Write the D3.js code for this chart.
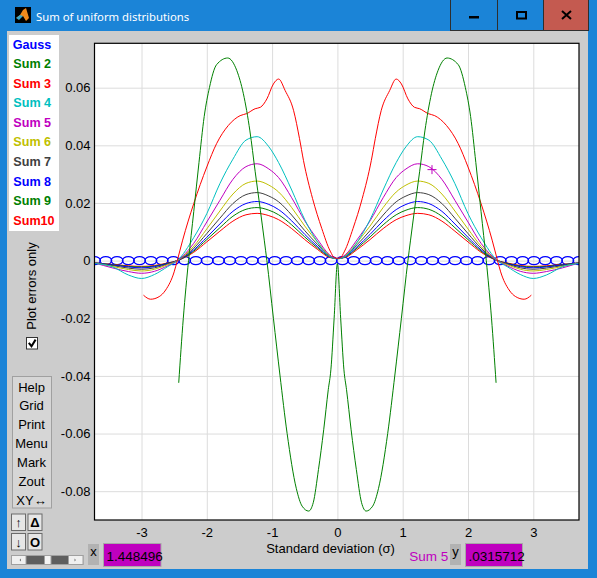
<!DOCTYPE html>
<html>
<head>
<meta charset="utf-8">
<script src="https://cdn.jsdelivr.net/npm/d3@7"></script>
<style>
  body { margin: 0; background: #1b84d7; }
  svg { display: block; }
  text { font-family: "Liberation Sans", Arial, sans-serif; }
</style>
</head>
<body>
<svg id="win" width="597" height="578"></svg>
<script>
// values
const xTicks = [-3, -2, -1, 0, 1, 2, 3];
const yTicks = [-0.08, -0.06, -0.04, -0.02, 0, 0.02, 0.04, 0.06];
const legendNames = ["Gauss", "Sum 2", "Sum 3", "Sum 4", "Sum 5", "Sum 6", "Sum 7", "Sum 8", "Sum 9", "Sum10"];
const legendColors = ["#0000ff", "#008000", "#ff0000", "#00bfbf", "#bf00bf", "#bfbf00", "#404040", "#0000ff", "#008000", "#ff0000"];
const buttonLabels = ["Help", "Grid", "Print", "Menu", "Mark", "Zout", "XY\u2194"];

// Gauss error is zero everywhere, only circle markers
const gaussX = [-3.720, -3.547, -3.375, -3.202, -3.030, -2.857, -2.685, -2.512, -2.340, -2.167,
  -1.994, -1.822, -1.649, -1.477, -1.304, -1.132, -0.959, -0.787, -0.614, -0.441, -0.269, -0.096,
  0.077, 0.249, 0.422, 0.594, 0.767, 0.939, 1.112, 1.285, 1.457, 1.630, 1.802, 1.975, 2.147,
  2.320, 2.492, 2.665, 2.837, 3.010, 3.183, 3.355, 3.528, 3.700];

const sum2X = [-2.43, -2.36, -2.28, -2.20, -2.12, -2.04, -1.96, -1.85, -1.68, -1.54, -1.44, -1.34, -1.26,
  -1.18, -1.12, -1.08, -0.98, -0.88, -0.77, -0.63, -0.54, -0.44, -0.37, -0.29, -0.21, -0.14,
  -0.10, -0.05, 0, 0.05, 0.10, 0.14, 0.21, 0.29, 0.37, 0.44, 0.54, 0.63, 0.77, 0.88, 0.98,
  1.08, 1.12, 1.18, 1.26, 1.34, 1.44, 1.54, 1.68, 1.85, 1.96, 2.04, 2.12, 2.20, 2.28, 2.36, 2.43];
const sum2Y = [-0.0424, -0.0200, 0.0000, 0.0170, 0.0340, 0.0500, 0.0600, 0.0680, 0.0703, 0.0659, 0.0579,
  0.0450, 0.0310, 0.0175, 0.0071, 0.0000, -0.0200, -0.0397, -0.0600, -0.0790, -0.0852,
  -0.0869, -0.0840, -0.0725, -0.0587, -0.0448, -0.0379, -0.0200, -0.0010, -0.0200, -0.0379, -0.0448,
  -0.0587, -0.0725, -0.0840, -0.0869, -0.0852, -0.0790, -0.0600, -0.0397, -0.0200, 0.0000,
  0.0071, 0.0175, 0.0310, 0.0450, 0.0579, 0.0659, 0.0703, 0.0680, 0.0600, 0.0500, 0.0340, 0.0170,
  0.0000, -0.0200, -0.0424];

const sum3X = [-2.97, -2.86, -2.73, -2.63, -2.5, -2.45, -2.37, -2.2, -2.0, -1.85, -1.67, -1.49, -1.39,
  -1.26, -1.18, -1.08, -0.98, -0.90, -0.80, -0.67, -0.58, -0.52, -0.38, -0.24, -0.11, -0.04, 0,
  0.04, 0.11, 0.24, 0.38, 0.52, 0.58, 0.67, 0.80, 0.90, 0.98, 1.08, 1.18, 1.26, 1.39, 1.49, 1.67,
  1.85, 2.0, 2.2, 2.37, 2.45, 2.5, 2.63, 2.73, 2.86, 2.97];
const sum3Y = [-0.0120, -0.0134, -0.0125, -0.0102, -0.0039, 0.0002, 0.0071, 0.0198, 0.0325, 0.0406,
  0.0469, 0.0503, 0.0510, 0.0527, 0.0532, 0.0561, 0.0613, 0.0630, 0.0590, 0.0520, 0.0423, 0.0348,
  0.0215, 0.0112, 0.0033, 0.0009, 0.0008, 0.0009, 0.0033, 0.0112, 0.0215, 0.0348, 0.0423, 0.0520,
  0.0590, 0.0630, 0.0613, 0.0561, 0.0532, 0.0527, 0.0510, 0.0503, 0.0469, 0.0406, 0.0325, 0.0198,
  0.0071, 0.0002, -0.0039, -0.0102, -0.0125, -0.0134, -0.0120];

// Sum 4 .. Sum 10 share one x grid
const famX = [-3.72, -3.45, -3.2, -3.0, -2.8, -2.6, -2.45, -2.2, -2.0, -1.8, -1.6, -1.4, -1.23, -1.05,
  -0.9, -0.7, -0.5, -0.3, -0.12, 0, 0.12, 0.3, 0.5, 0.7, 0.9, 1.05, 1.23, 1.4, 1.6, 1.8, 2.0, 2.2,
  2.45, 2.6, 2.8, 3.0, 3.2, 3.45, 3.70];
const sum4 = [-0.0010, -0.0021, -0.0050, -0.0062, -0.0048, -0.0021, 0.0000, 0.0080, 0.0163, 0.0267, 0.0352, 0.0418, 0.0430, 0.0395, 0.0340, 0.0245, 0.0142, 0.0063, 0.0014, 0.0006, 0.0014, 0.0063, 0.0142, 0.0245, 0.0340, 0.0395, 0.0430, 0.0418, 0.0352, 0.0267, 0.0163, 0.0080, 0.0000, -0.0021, -0.0048, -0.0062, -0.0050, -0.0021, -0.0010];
const sum5 = [-0.0008, -0.0025, -0.0038, -0.0044, -0.0037, -0.0018, 0.0000, 0.0060, 0.0134, 0.0209, 0.0282, 0.0326, 0.0336, 0.0318, 0.0288, 0.0218, 0.0138, 0.0072, 0.0020, 0.0007, 0.0020, 0.0072, 0.0138, 0.0218, 0.0288, 0.0318, 0.0336, 0.0326, 0.0282, 0.0209, 0.0134, 0.0060, 0.0000, -0.0018, -0.0037, -0.0044, -0.0038, -0.0025, -0.0008];
const sum6 = [-0.0008, -0.0020, -0.0031, -0.0036, -0.0030, -0.0014, 0.0000, 0.0050, 0.0110, 0.0172, 0.0231, 0.0268, 0.0276, 0.0262, 0.0238, 0.0184, 0.0120, 0.0063, 0.0018, 0.0007, 0.0018, 0.0063, 0.0120, 0.0184, 0.0238, 0.0262, 0.0276, 0.0268, 0.0231, 0.0172, 0.0110, 0.0050, 0.0000, -0.0014, -0.0030, -0.0036, -0.0031, -0.0020, -0.0008];
const sum7 = [-0.0008, -0.0017, -0.0026, -0.0030, -0.0025, -0.0012, 0.0000, 0.0043, 0.0094, 0.0147, 0.0198, 0.0229, 0.0236, 0.0224, 0.0204, 0.0158, 0.0104, 0.0055, 0.0016, 0.0007, 0.0016, 0.0055, 0.0104, 0.0158, 0.0204, 0.0224, 0.0236, 0.0229, 0.0198, 0.0147, 0.0094, 0.0043, 0.0000, -0.0012, -0.0025, -0.0030, -0.0026, -0.0017, -0.0008];
const sum8 = [-0.0008, -0.0015, -0.0022, -0.0025, -0.0021, -0.0010, 0.0000, 0.0037, 0.0081, 0.0127, 0.0171, 0.0198, 0.0205, 0.0195, 0.0177, 0.0138, 0.0091, 0.0048, 0.0014, 0.0007, 0.0014, 0.0048, 0.0091, 0.0138, 0.0177, 0.0195, 0.0205, 0.0198, 0.0171, 0.0127, 0.0081, 0.0037, 0.0000, -0.0010, -0.0021, -0.0025, -0.0022, -0.0015, -0.0008];
const sum9 = [-0.0008, -0.0014, -0.0020, -0.0022, -0.0019, -0.0009, 0.0000, 0.0033, 0.0073, 0.0114, 0.0154, 0.0178, 0.0184, 0.0175, 0.0159, 0.0124, 0.0082, 0.0043, 0.0013, 0.0007, 0.0013, 0.0043, 0.0082, 0.0124, 0.0159, 0.0175, 0.0184, 0.0178, 0.0154, 0.0114, 0.0073, 0.0033, 0.0000, -0.0009, -0.0019, -0.0022, -0.0020, -0.0014, -0.0008];
const sum10 = [-0.0008, -0.0013, -0.0018, -0.0020, -0.0017, -0.0008, 0.0000, 0.0029, 0.0065, 0.0102, 0.0137, 0.0159, 0.0164, 0.0156, 0.0142, 0.0111, 0.0073, 0.0038, 0.0011, 0.0007, 0.0011, 0.0038, 0.0073, 0.0111, 0.0142, 0.0156, 0.0164, 0.0159, 0.0137, 0.0102, 0.0065, 0.0029, 0.0000, -0.0008, -0.0017, -0.0020, -0.0018, -0.0013, -0.0008];

// cursor readout
const cursorX = 1.448496;
const cursorY = 0.0315712;
const cursorName = "Sum 5";

const svg = d3.select("#win");

// ---- window frame ----
svg.append("rect").attr("width", 597).attr("height", 578).attr("fill", "#1b84d7");
svg.append("rect").attr("x", 7).attr("y", 31).attr("width", 581).attr("height", 538).attr("fill", "#cccccc");

// title bar icon + text
svg.append("rect").attr("x", 15).attr("y", 7).attr("width", 16).attr("height", 16).attr("fill", "#000");
svg.append("path").attr("d", "M16,18 L20,15 L23,10 L26,8 L29,18 L26,21 L23,16 Z").attr("fill", "#f08a1c");
svg.append("path").attr("d", "M16,18 L20,15 L23,16 L19,20 Z").attr("fill", "#3aa6c8");
svg.append("text").attr("x", 36).attr("y", 20.5)
    .style("font-family", "'Noto Sans', sans-serif").style("font-size", "11.3px")
    .attr("fill", "#fff").text("Sum of uniform distributions");

// title buttons
const tb = svg.append("g");
tb.append("rect").attr("x", 543.5).attr("y", -1).attr("width", 45).attr("height", 31.5).attr("fill", "#c45a50");
[450.5, 497.5, 543.5, 588.5].forEach(xx => {
  tb.append("line").attr("x1", xx).attr("x2", xx).attr("y1", 0).attr("y2", 31).attr("stroke", "#2e2e2e");
});
tb.append("line").attr("x1", 450).attr("x2", 589).attr("y1", 30.5).attr("y2", 30.5).attr("stroke", "#2e2e2e");
tb.append("rect").attr("x", 469).attr("y", 16).attr("width", 10).attr("height", 2.5).attr("fill", "#000");
tb.append("rect").attr("x", 517).attr("y", 12).attr("width", 9).attr("height", 6.5)
    .attr("fill", "none").attr("stroke", "#000").attr("stroke-width", 2);
tb.append("path").attr("d", "M562,11 L571,19 M571,11 L562,19").attr("stroke", "#000").attr("stroke-width", 2);

// ---- plot ----
const plotL = 94.5, plotR = 579, plotT = 43.3, plotB = 520;
const x = d3.scaleLinear().domain([-3.72, 3.70]).range([plotL, plotR]);
const y = d3.scaleLinear().domain([-0.0900, 0.0754]).range([plotB, plotT]);

svg.append("rect").attr("x", plotL).attr("y", plotT).attr("width", plotR - plotL).attr("height", plotB - plotT)
    .attr("fill", "#fff");

const yAxis = svg.append("g").attr("transform", `translate(${plotL},0)`)
    .call(d3.axisLeft(y).tickValues(yTicks).tickSize(-(plotR - plotL)).tickPadding(4)
      .tickFormat(d => Math.abs(d) < 1e-9 ? "0" : d.toFixed(2)));
const xAxis = svg.append("g").attr("transform", `translate(0,${plotB})`)
    .call(d3.axisBottom(x).tickValues(xTicks).tickSize(-(plotB - plotT)).tickPadding(7.5)
      .tickFormat(d => String(d)));
[xAxis, yAxis].forEach(ax => {
  ax.select(".domain").remove();
  ax.selectAll(".tick line").attr("stroke", "#dcdcdc");
  ax.selectAll(".tick text").attr("fill", "#000")
      .style("font-family", "'Liberation Sans', Arial, sans-serif").style("font-size", "13px");
});

svg.append("clipPath").attr("id", "clip").append("rect")
    .attr("x", plotL).attr("y", plotT).attr("width", plotR - plotL).attr("height", plotB - plotT);
const plot = svg.append("g").attr("clip-path", "url(#clip)");

// Gauss: zero error, circle markers
plot.selectAll("ellipse.gauss").data(gaussX).join("ellipse")
    .attr("class", "gauss")
    .attr("cx", d => x(d)).attr("cy", y(0))
    .attr("rx", 5.9).attr("ry", 4.0)
    .attr("fill", "none").attr("stroke", legendColors[0]).attr("stroke-width", 1.3);

const series = [
  { xs: sum2X, ys: sum2Y, color: legendColors[1] },
  { xs: sum3X, ys: sum3Y, color: legendColors[2] },
  { xs: famX, ys: sum4, color: legendColors[3] },
  { xs: famX, ys: sum5, color: legendColors[4] },
  { xs: famX, ys: sum6, color: legendColors[5] },
  { xs: famX, ys: sum7, color: legendColors[6] },
  { xs: famX, ys: sum8, color: legendColors[7] },
  { xs: famX, ys: sum9, color: legendColors[8] },
  { xs: famX, ys: sum10, color: legendColors[9] }
];

const line = d3.line().x(d => x(d[0])).y(d => y(d[1])).curve(d3.curveMonotoneX);
// draw Sum 10 first so Sum 2 ends up on top
series.slice().reverse().forEach(s => {
  plot.append("path")
      .datum(s.xs.map((v, i) => [v, s.ys[i]]))
      .attr("d", line)
      .attr("fill", "none")
      .attr("stroke", s.color)
      .attr("stroke-width", 1);
});

// cursor mark
const cx = x(cursorX), cy = y(cursorY);
plot.append("path").attr("d", `M${cx - 4.5},${cy} H${cx + 4.5} M${cx},${cy - 4.5} V${cy + 4.5}`)
    .attr("stroke", legendColors[4]).attr("stroke-width", 1);

// frame
svg.append("rect").attr("x", plotL).attr("y", plotT).attr("width", plotR - plotL).attr("height", plotB - plotT)
    .attr("fill", "none").attr("stroke", "#000").attr("stroke-width", 1.2);

svg.append("text").attr("x", 330.5).attr("y", 552.5).attr("text-anchor", "middle")
    .style("font-size", "13px").text("Standard deviation (\u03c3)");

// ---- legend ----
svg.append("rect").attr("x", 9).attr("y", 35).attr("width", 50).attr("height", 196).attr("fill", "#fff");
svg.selectAll("text.leg").data(legendNames).join("text")
    .attr("class", "leg")
    .attr("x", (d, i) => i === 0 ? 12.7 : 13.3)
    .attr("y", (d, i) => 48.8 + i * 19.53)
    .attr("fill", (d, i) => legendColors[i])
    .style("font-size", "12.6px").style("font-weight", "bold")
    .text(d => d);

// ---- side controls ----
svg.append("text").attr("transform", "translate(35.8,286) rotate(-90)").attr("text-anchor", "middle")
    .style("font-size", "13px").text("Plot errors only");
svg.append("rect").attr("x", 26.5).attr("y", 337.5).attr("width", 11).attr("height", 11.5)
    .attr("fill", "#fff").attr("stroke", "#333");
svg.append("path").attr("d", "M28.8,342.8 L31.5,346.2 L35.6,339.6").attr("fill", "none")
    .attr("stroke", "#000").attr("stroke-width", 2);

svg.append("rect").attr("x", 12.5).attr("y", 376.5).attr("width", 39).attr("height", 131.5)
    .attr("fill", "#d6d6d6").attr("stroke", "#a0a0a0");
svg.selectAll("text.btn").data(buttonLabels).join("text")
    .attr("class", "btn")
    .attr("x", 31.5)
    .attr("y", (d, i) => 391.5 + i * 18.9)
    .attr("text-anchor", "middle")
    .style("font-size", "13px")
    .text(d => d);

const small = [
  { x: 11.5, y: 514, t: "\u2191" }, { x: 28, y: 514, t: "\u0394" },
  { x: 11.5, y: 533.5, t: "\u2193" }, { x: 28, y: 533.5, t: "O" }
];
small.forEach(b => {
  svg.append("rect").attr("x", b.x).attr("y", b.y).attr("width", 14).attr("height", 16.5)
      .attr("fill", "#e6e6e6").attr("stroke", "#6a6a6a");
  svg.append("text").attr("x", b.x + 7).attr("y", b.y + 13).attr("text-anchor", "middle")
      .style("font-size", "13px").style("font-weight", "bold").text(b.t);
});

// slider
svg.append("rect").attr("x", 11.5).attr("y", 555.5).attr("width", 71.5).attr("height", 9).attr("fill", "#5e5e5e")
    .attr("stroke", "#a0a0a0");
svg.append("rect").attr("x", 11.5).attr("y", 555.5).attr("width", 14.5).attr("height", 9).attr("fill", "#f0f0f0")
    .attr("stroke", "#a0a0a0");
svg.append("rect").attr("x", 68.5).attr("y", 555.5).attr("width", 14.5).attr("height", 9).attr("fill", "#f0f0f0")
    .attr("stroke", "#a0a0a0");
svg.append("rect").attr("x", 44.5).attr("y", 555.5).attr("width", 6.5).attr("height", 9).attr("fill", "#f4f4f4")
    .attr("stroke", "#a0a0a0");
svg.append("path").attr("d", "M19.5,560 L21,558.5 L21,561.5 Z M76,560 L74.5,558.5 L74.5,561.5 Z").attr("fill", "#777");

// readout boxes
function readout(lx, vx, vw, label, value) {
  svg.append("rect").attr("x", lx).attr("y", 544).attr("width", 11).attr("height", 21).attr("fill", "#b2b2b2");
  svg.append("text").attr("x", lx + 5.5).attr("y", 556).attr("text-anchor", "middle")
      .style("font-size", "13px").text(label);
  svg.append("rect").attr("x", vx).attr("y", 543.5).attr("width", vw).attr("height", 23)
      .attr("fill", "#bf00bf").attr("stroke", "#a8a8a8");
  svg.append("text").attr("x", vx + 3).attr("y", 560.5)
      .style("font-size", "13.5px").text(value);
}
readout(88, 103.5, 57.5, "x", String(cursorX));
readout(450, 465.5, 57, "y", String(cursorY).replace(/^0/, ""));
svg.append("text").attr("x", 409.3).attr("y", 561).attr("fill", "#bf00bf")
    .style("font-size", "13.5px").text(cursorName);
</script>
</body>
</html>
